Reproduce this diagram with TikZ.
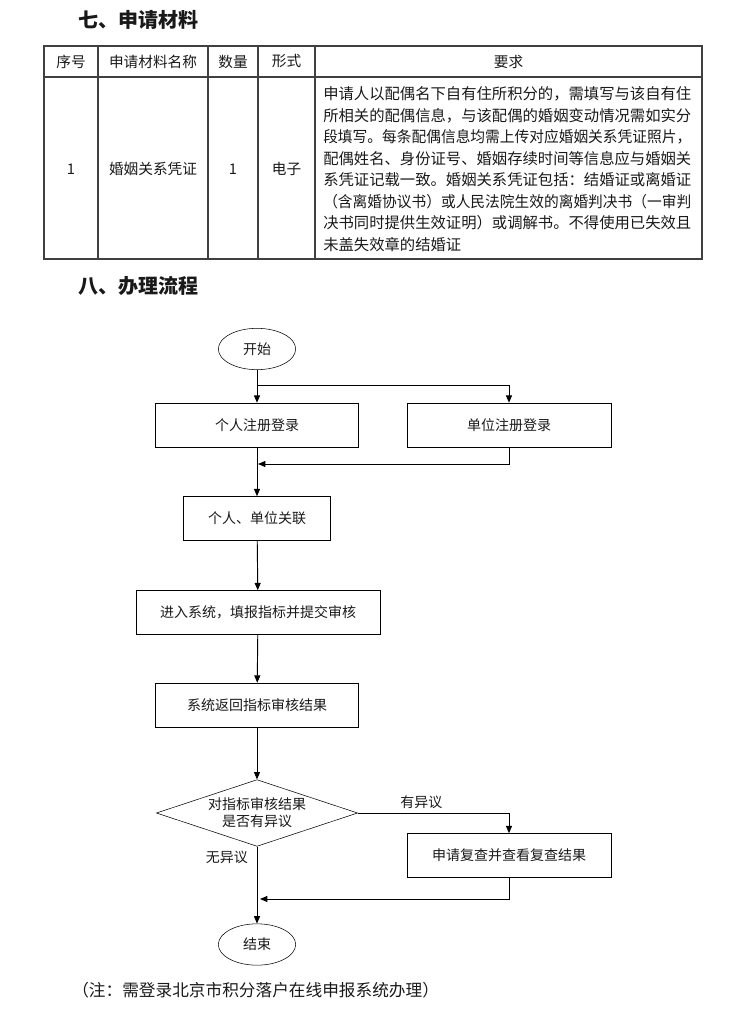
\documentclass[tikz,border=0pt]{standalone}
\usepackage{fontspec}
\setmainfont{Noto Sans CJK SC}
\usetikzlibrary{shapes.geometric,arrows.meta}

\begin{document}
\begin{tikzpicture}[x=0.75pt,y=-0.75pt,
  every node/.style={inner sep=0pt, text=black!90},
  title/.style={anchor=west, font=\fontsize{15}{18}\selectfont\bfseries},
  cell/.style={font=\fontsize{11}{13}\selectfont},
  body/.style={anchor=west, font=\fontsize{11.5}{13}\selectfont},
  small/.style={font=\fontsize{10.5}{12.75}\selectfont},
  box/.style={draw, rectangle, small, minimum height=33pt},
  term/.style={draw, ellipse, small, minimum width=58pt, minimum height=31pt},
  decide/.style={draw, diamond, aspect=3, small, align=center, minimum width=151pt, minimum height=50pt},
  flow/.style={draw, line width=0.7pt, -{Triangle[length=5.5pt,width=4.5pt]}},
  grid/.style={line width=0.9pt, black!75}
]
\useasboundingbox (0,0) rectangle (752,1012);

% section 7: table
\node[title] (sec7) at (78,20) {七、申请材料};
\draw[grid] (44,46) rectangle (702,259);
\draw[grid] (44,77) -- (702,77);
\foreach \x in {98,208,258,315}
  \draw[grid] (\x,46) -- (\x,259);

\node[cell] (h1) at (71,61.5) {序号};
\node[cell] (h2) at (153,61.5) {申请材料名称};
\node[cell] (h3) at (233,61.5) {数量};
\node[cell] (h4) at (286.5,61.5) {形式};
\node[cell] (h5) at (508.5,61.5) {要求};

\node[cell] (c1) at (71,169) {1};
\node[cell] (c2) at (153,169) {婚姻关系凭证};
\node[cell] (c3) at (233,169) {1};
\node[cell] (c4) at (286.5,169) {电子};

\foreach \t [count=\i] in {申请人以配偶名下自有住所积分的，需填写与该自有住,
  所相关的配偶信息，与该配偶的婚姻变动情况需如实分,
  {\scalebox{0.96}[1]{段填写。每条配偶信息均需上传对应婚姻关系凭证照片，}},
  配偶姓名、身份证号、婚姻存续时间等信息应与婚姻关,
  系凭证记载一致。婚姻关系凭证包括：结婚证或离婚证,
  {\scalebox{0.96}[1]{（含离婚协议书）或人民法院生效的离婚判决书（一审判}},
  决书同时提供生效证明）或调解书。不得使用已失效且,
  未盖失效章的结婚证}
  \node[body] (req\i) at (323,{94.3+21.4*(\i-1)}) {\t};

% section 8: flow chart
\node[title] (sec8) at (78,286) {八、办理流程};

\node[term] (start) at (257,349) {开始};
\node[box, minimum width=152pt] (pers) at (257,425) {个人注册登录};
\node[box, minimum width=153pt] (unit) at (509,425) {单位注册登录};
\node[box, minimum width=110pt] (link) at (257,518.5) {个人、单位关联};
\node[box, minimum width=183pt] (fill) at (258,612.5) {进入系统，填报指标并提交审核};
\node[box, minimum width=152pt] (ret) at (257,705) {系统返回指标审核结果};
\node[decide] (ask) at (257,813) {对指标审核结果\\是否有异议};
\node[box, minimum width=153pt] (rev) at (509,855.5) {申请复查并查看复查结果};
\node[term] (stop) at (257,944.5) {结束};

\coordinate (split) at (257,385);
\coordinate (merge) at (258,464);
\coordinate (back) at (260,899);

\draw[flow] (start) -- (pers);
\draw[flow] (split) -| (unit);
\draw[flow] (unit) |- (merge);
\draw[flow] (pers) -- (link);
\draw[flow] (link) -- (fill);
\draw[flow] (fill) -- (ret);
\draw[flow] (ret) -- (ask);
\draw[flow] (ask) -| (rev) node[small, pos=0.21, above=3pt] {有异议};
\draw[flow] (ask) -- (stop) node[small, pos=0.14, left=6.5pt] {无异议};
\draw[flow] (rev) |- (back);

\node[anchor=west, font=\fontsize{12.5}{15}\selectfont] (note) at (72,990) {（注：需登录北京市积分落户在线申报系统办理）};
\end{tikzpicture}
\end{document}
